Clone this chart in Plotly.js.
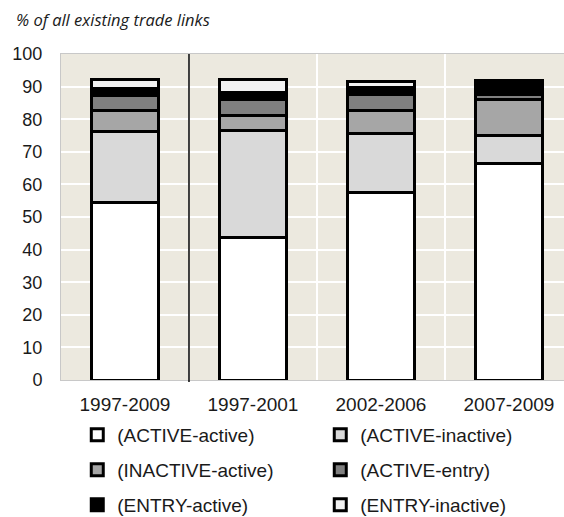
<!DOCTYPE html>
<html><head><meta charset="utf-8">
<script src="https://cdn.plot.ly/plotly-3.0.1.min.js"></script>
<style>html,body{margin:0;padding:0;background:#fff}#chart{width:564px;height:517px}</style>
</head><body><div id="chart"></div>
<script>
const periods = ['1997-2009', '1997-2001', '2002-2006', '2007-2009'];
const activeActive   = [54.3, 43.6, 57.6, 66.3];
const activeInactive = [21.9, 32.9, 18.1, 8.7];
const inactiveActive = [6.6, 4.5, 7.1, 11.1];
const activeEntry    = [4.4, 5.0, 4.9, 1.6];
const entryActive    = [2.1, 2.2, 1.9, 4.3];
const entryInactive  = [2.9, 4.0, 2.0, 0.0];
const seriesNames = ['(ACTIVE-active)', '(ACTIVE-inactive)', '(INACTIVE-active)', '(ACTIVE-entry)', '(ENTRY-active)', '(ENTRY-inactive)'];
const yTickVals = [0, 10, 20, 30, 40, 50, 60, 70, 80, 90, 100];

const series = [activeActive, activeInactive, inactiveActive, activeEntry, entryActive, entryInactive];
const fills = ['#ffffff', '#d9d9d9', '#a6a6a6', '#808080', '#000000', '#f2f2f2'];
const legendIds = ['legend', 'legend', 'legend2', 'legend2', 'legend3', 'legend3'];

const traces = series.map((vals, i) => ({
  type: 'bar',
  x: periods,
  y: vals,
  name: seriesNames[i],
  legend: legendIds[i],
  width: 0.52,
  marker: {color: fills[i], line: {color: '#000000', width: 3}},
  hoverinfo: 'name+y'
}));

const font = {family: 'Liberation Sans, Arial, sans-serif', size: 19, color: '#1a1a1a'};
const legBase = {
  orientation: 'h', xanchor: 'left', yanchor: 'middle', xref: 'container', yref: 'container',
  x: 0.137, entrywidth: 198, entrywidthmode: 'pixels',
  font: font, bgcolor: 'rgba(0,0,0,0)', borderwidth: 0, traceorder: 'normal'
};

const layout = {
  width: 564, height: 517,
  margin: {l: 61, r: 0, t: 54, b: 137, pad: 0},
  paper_bgcolor: '#ffffff',
  plot_bgcolor: '#ece9df',
  barmode: 'stack',
  font: font,
  showlegend: true,
  legend: Object.assign({}, legBase, {y: 0.1586}),
  legend2: Object.assign({}, legBase, {y: 0.0909}),
  legend3: Object.assign({}, legBase, {y: 0.0232}),
  xaxis: {
    type: 'category', range: [-0.5, 3.43],
    tickson: 'boundaries', showgrid: true, gridcolor: '#ffffff', gridwidth: 2,
    ticks: '', ticklabelstandoff: 7,
    showline: true, linecolor: '#c8c8c8', linewidth: 1, mirror: true,
    tickfont: {family: 'Liberation Sans, Arial, sans-serif', size: 19, color: '#1a1a1a'},
    zeroline: false
  },
  yaxis: {
    range: [0, 100], tickmode: 'array', tickvals: yTickVals,
    showgrid: true, gridcolor: '#ffffff', gridwidth: 2,
    ticks: 'outside', ticklen: 14, tickcolor: 'rgba(0,0,0,0)',
    showline: true, linecolor: '#c8c8c8', linewidth: 1, mirror: true,
    tickfont: {family: 'Liberation Sans, Arial, sans-serif', size: 18, color: '#1a1a1a'},
    zeroline: false
  },
  shapes: [{
    type: 'line', xref: 'x', yref: 'paper', x0: 0.5, x1: 0.5, y0: -0.006, y1: 1,
    line: {color: '#000000', width: 1.5}
  }],
  annotations: [{
    text: '<i>% of all existing trade links</i>', xref: 'paper', yref: 'paper',
    x: -0.093, y: 1.105, xanchor: 'left', yanchor: 'middle', showarrow: false,
    font: {family: 'Open Sans, sans-serif', size: 16.5, color: '#1a1a1a'}
  }]
};

Plotly.newPlot('chart', traces, layout, {displayModeBar: false, staticPlot: true});
</script>
</body></html>
